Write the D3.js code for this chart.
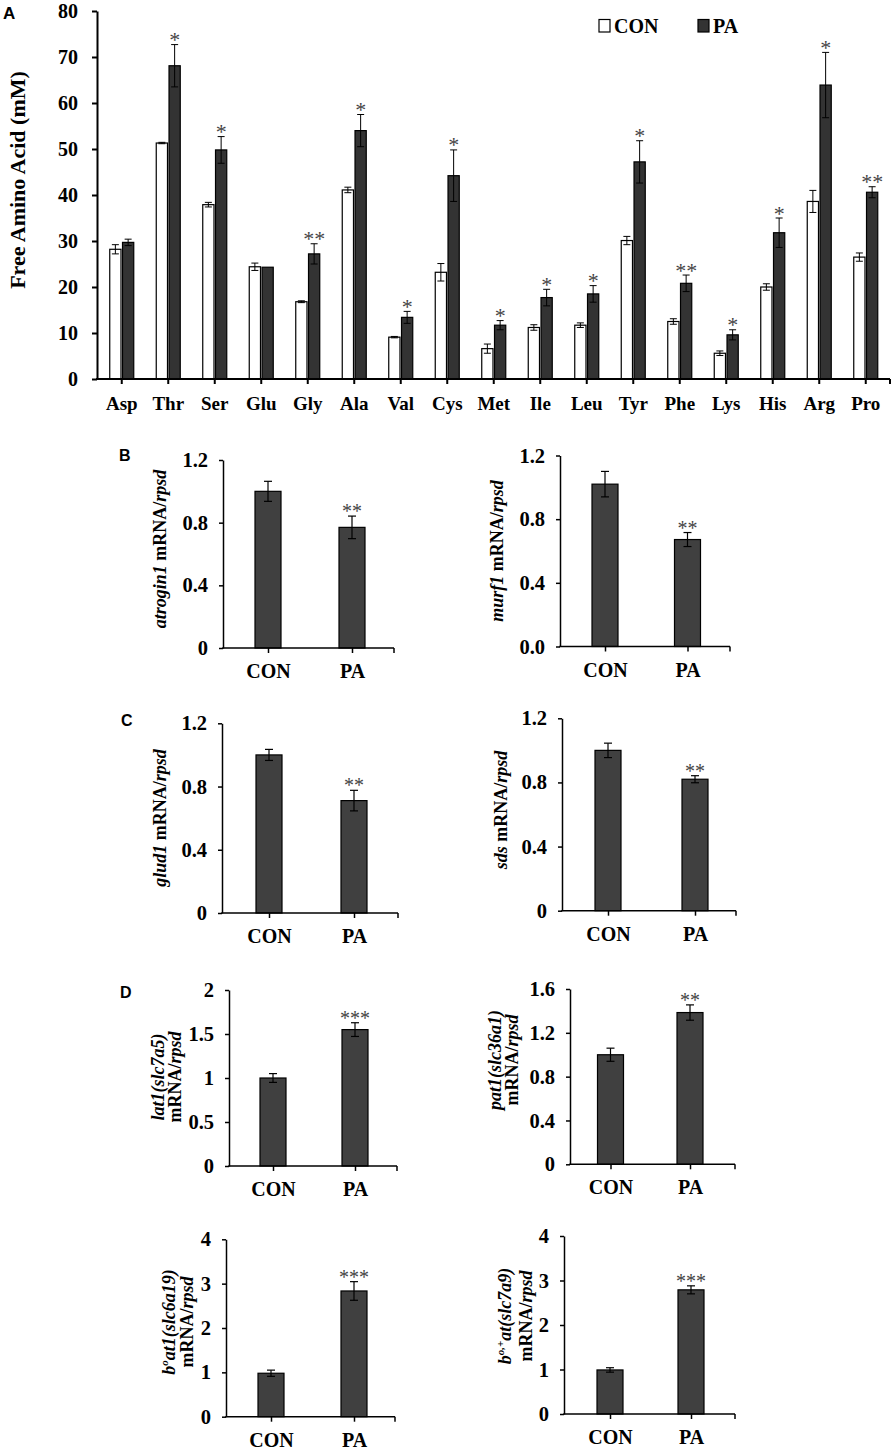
<!DOCTYPE html>
<html><head><meta charset="utf-8">
<script src="https://cdn.jsdelivr.net/npm/d3@7"></script>
<style>body{margin:0;background:#fff} svg{display:block}</style>
</head><body>
<svg id="fig" width="896" height="1450"></svg>
<script>
// ---------- DATA ----------
const aminoAcids = ["Asp","Thr","Ser","Glu","Gly","Ala","Val","Cys","Met","Ile","Leu","Tyr","Phe","Lys","His","Arg","Pro"];
const conMean = [28.2,51.3,37.9,24.4,16.8,41.1,9.1,23.2,6.6,11.2,11.7,30.1,12.5,5.6,20.0,38.6,26.5];
const conErr  = [1.0,0.15,0.5,0.8,0.2,0.6,0.15,1.9,1.0,0.6,0.5,0.9,0.6,0.5,0.7,2.4,0.9];
const paMean  = [29.7,68.1,49.8,24.3,27.2,54.0,13.4,44.2,11.7,17.7,18.5,47.2,20.8,9.6,31.8,63.9,40.6];
const paErr   = [0.7,4.6,2.9,0.0,2.2,3.5,1.3,5.6,1.0,1.8,1.8,4.6,1.8,1.1,3.2,7.1,1.2];
const paSig   = ["","*","*","","**","*","*","*","*","*","*","*","**","*","*","*","**"];
const ticksA  = [0,10,20,30,40,50,60,70,80];
const seriesA = ["CON","PA"];

const groups = ["CON","PA"];
const geneNames = ["atrogin1","murf1","glud1","sds","lat1","pat1","b0at1","b0plusat"];
const geneMeans = [[1.0,0.77],[1.02,0.672],[1.0,0.711],[1.0,0.82],[1.0,1.55],[1.0,1.385],[0.98,2.835],[0.99,2.79]];
const geneErrs  = [[0.064,0.072],[0.08,0.044],[0.035,0.065],[0.045,0.022],[0.05,0.078],[0.06,0.07],[0.07,0.21],[0.05,0.09]];
const geneSig   = ["**","**","**","**","***","**","***","***"];
const geneMax   = [1.2,1.2,1.2,1.2,2,1.6,4,4];
const geneTickValues = [[0,0.4,0.8,1.2],[0,0.4,0.8,1.2],[0,0.4,0.8,1.2],[0,0.4,0.8,1.2],[0,0.5,1,1.5,2],[0,0.4,0.8,1.2,1.6],[0,1,2,3,4],[0,1,2,3,4]];
const geneTickLabels = [["0","0.4","0.8","1.2"],["0.0","0.4","0.8","1.2"],["0","0.4","0.8","1.2"],["0","0.4","0.8","1.2"],["0","0.5","1","1.5","2"],["0","0.4","0.8","1.2","1.6"],["0","1","2","3","4"],["0","1","2","3","4"]];
const geneTitles = [
  [[["atrogin1",1],[" mRNA/",0],["rpsd",1]]],
  [[["murf1",1],[" mRNA/",0],["rpsd",1]]],
  [[["glud1",1],[" mRNA/",0],["rpsd",1]]],
  [[["sds",1],[" mRNA/",0],["rpsd",1]]],
  [[["lat1(slc7a5)",1]],[["mRNA/",0],["rpsd",1]]],
  [[["pat1(slc36a1)",1]],[["mRNA/",0],["rpsd",1]]],
  [[["b",1],["o",2],["at1(slc6a19)",1]],[["mRNA/",0],["rpsd",1]]],
  [[["b",1],["o,+",2],["at(slc7a9)",1]],[["mRNA/",0],["rpsd",1]]]
];
const panelLetters = ["A","B","C","D"];

// ---------- LAYOUT ----------
const SERIF = "'Liberation Serif','Times New Roman',serif";
const SANS = "'Liberation Sans',Arial,sans-serif";
const layA = {x0:97, x1:890, b0:98.5, b1:889, yTop:11, y0:379};
const lay = [
  {x0:223, x1:394, c:[268,352],   yTop:460,   y0:648,   tx:[160],     ty:549},
  {x0:560, x1:730, c:[605,687.5], yTop:455.5, y0:646.5, tx:[497],     ty:551},
  {x0:222, x1:398, c:[269,354],   yTop:723.3, y0:913,   tx:[160],     ty:818},
  {x0:562, x1:736, c:[608,695],   yTop:718.3, y0:910.7, tx:[501],     ty:810},
  {x0:229, x1:397, c:[273,355],   yTop:990,   y0:1166,  tx:[158,175], ty:1077},
  {x0:570, x1:735, c:[610.5,690], yTop:989,   y0:1164.3,tx:[495,512], ty:1060},
  {x0:226, x1:395, c:[271,354],   yTop:1239.3,y0:1416.7,tx:[169,187], ty:1322},
  {x0:564, x1:735, c:[610,691],   yTop:1236,  y0:1414,  tx:[505,526], ty:1316}
];
const letterPos = [[3,19,17],[119,461,16],[121,726,16],[120,998,16]];

const svg = d3.select("#fig");

// ---------- PANEL A ----------
const gA = svg.append("g");
const xA = d3.scaleBand().domain(aminoAcids).range([layA.b0, layA.b1]);
const xSub = d3.scaleBand().domain(seriesA).range([-12, 12]).paddingInner(0.12);
const yA = d3.scaleLinear().domain([0,80]).range([layA.y0, layA.yTop]);

const rowsA = aminoAcids.map((a,i)=>({a, i, vals:[
  {s:"CON", m:conMean[i], e:conErr[i], sig:""},
  {s:"PA", m:paMean[i], e:paErr[i], sig:paSig[i]}]}));

const cat = gA.selectAll("g.cat").data(rowsA).join("g")
  .attr("transform", d=>`translate(${xA(d.a)+xA.bandwidth()/2},0)`);
cat.selectAll("rect").data(d=>d.vals).join("rect")
  .attr("x", d=>xSub(d.s)).attr("width", xSub.bandwidth())
  .attr("y", d=>yA(d.m)).attr("height", d=>yA(0)-yA(d.m))
  .attr("fill", d=>d.s==="CON"?"#fff":"#333").attr("stroke","#000").attr("stroke-width",1.2);
const errA = cat.selectAll("g.err").data(d=>d.vals.filter(v=>v.e>0)).join("g")
  .attr("stroke","#000").attr("stroke-width",1);
errA.append("line").attr("x1",d=>xSub(d.s)+xSub.bandwidth()/2).attr("x2",d=>xSub(d.s)+xSub.bandwidth()/2)
  .attr("y1",d=>yA(d.m-d.e)).attr("y2",d=>yA(d.m+d.e));
errA.append("line").attr("x1",d=>xSub(d.s)+xSub.bandwidth()/2-3.5).attr("x2",d=>xSub(d.s)+xSub.bandwidth()/2+3.5)
  .attr("y1",d=>yA(d.m+d.e)).attr("y2",d=>yA(d.m+d.e));
errA.append("line").attr("x1",d=>xSub(d.s)+xSub.bandwidth()/2-3.5).attr("x2",d=>xSub(d.s)+xSub.bandwidth()/2+3.5)
  .attr("y1",d=>yA(d.m-d.e)).attr("y2",d=>yA(d.m-d.e));
cat.selectAll("text.sig").data(d=>d.vals.filter(v=>v.sig)).join("text").attr("class","sig")
  .attr("x",d=>xSub(d.s)+xSub.bandwidth()/2).attr("y",d=>yA(d.m+d.e)+2.5)
  .attr("text-anchor","middle").attr("font-family",SERIF).attr("font-size",22).attr("fill","#444")
  .text(d=>d.sig);

// axes A
const axLA = gA.append("g").attr("transform",`translate(${layA.x0},0)`)
  .call(d3.axisLeft(yA).tickValues(ticksA).tickSize(5).tickSizeOuter(0).tickPadding(14));
axLA.select(".domain").attr("stroke-width",2);
axLA.selectAll(".tick line").attr("stroke-width",2);
axLA.selectAll("text").attr("font-family",SERIF).attr("font-weight","bold").attr("font-size",20).attr("fill","#000");
const axBA = gA.append("g").attr("transform",`translate(0,${layA.y0})`)
  .call(d3.axisBottom(xA).tickSize(5).tickSizeOuter(0));
axBA.select(".domain").remove();
axBA.append("line").attr("x1",layA.x0-1).attr("x2",layA.x1).attr("stroke","#000").attr("stroke-width",2);
axBA.append("line").attr("x1",layA.x1).attr("x2",layA.x1).attr("y2",5).attr("stroke","#000").attr("stroke-width",2);
axBA.selectAll(".tick line").attr("stroke-width",2);
axBA.selectAll("text").attr("y",31).attr("dy",0).attr("font-family",SERIF).attr("font-weight","bold").attr("font-size",19).attr("fill","#000");

gA.append("text").attr("transform","translate(17,180) rotate(-90)").attr("dy","0.35em")
  .attr("text-anchor","middle").attr("font-family",SERIF).attr("font-weight","bold").attr("font-size",22)
  .text("Free Amino Acid (mM)");

// legend
const legX = [599, 698];
seriesA.forEach((s,i)=>{
  gA.append("rect").attr("x",legX[i]).attr("y",19.5).attr("width",11).attr("height",12.5)
    .attr("fill", s==="CON"?"#fff":"#333").attr("stroke","#000").attr("stroke-width",1.2);
  gA.append("text").attr("x",legX[i]+15).attr("y",33).attr("font-family",SERIF).attr("font-weight","bold")
    .attr("font-size",20).text(s);
});

// ---------- SMALL PANELS ----------
geneNames.forEach((gn,k)=>{
  const L = lay[k];
  const g = svg.append("g").attr("class","gene-"+gn);
  const x = d3.scalePoint().domain(groups).range(L.c);
  const y = d3.scaleLinear().domain([0, geneMax[k]]).range([L.y0, L.yTop]);
  const rows = groups.map((s,i)=>({s, m:geneMeans[k][i], e:geneErrs[k][i], sig: i===1?geneSig[k]:""}));
  const bw = 26;
  g.selectAll("rect").data(rows).join("rect")
    .attr("x",d=>x(d.s)-bw/2).attr("width",bw).attr("y",d=>y(d.m)).attr("height",d=>y(0)-y(d.m))
    .attr("fill","#404040").attr("stroke","#000").attr("stroke-width",1.2);
  const eg = g.selectAll("g.err").data(rows).join("g").attr("stroke","#000").attr("stroke-width",1.2);
  eg.append("line").attr("x1",d=>x(d.s)).attr("x2",d=>x(d.s)).attr("y1",d=>y(d.m-d.e)).attr("y2",d=>y(d.m+d.e));
  eg.append("line").attr("x1",d=>x(d.s)-4).attr("x2",d=>x(d.s)+4).attr("y1",d=>y(d.m+d.e)).attr("y2",d=>y(d.m+d.e));
  eg.append("line").attr("x1",d=>x(d.s)-4).attr("x2",d=>x(d.s)+4).attr("y1",d=>y(d.m-d.e)).attr("y2",d=>y(d.m-d.e));
  g.selectAll("text.sig").data(rows.filter(d=>d.sig)).join("text").attr("class","sig")
    .attr("x",d=>x(d.s)).attr("y",d=>y(d.m+d.e)+2).attr("text-anchor","middle")
    .attr("font-family",SERIF).attr("font-size",20).attr("fill","#444").text(d=>d.sig);

  const ay = g.append("g").attr("transform",`translate(${L.x0},0)`)
    .call(d3.axisLeft(y).tickValues(geneTickValues[k]).tickFormat((v,i)=>geneTickLabels[k][i])
      .tickSize(4).tickSizeOuter(0).tickPadding(11));
  ay.select(".domain").attr("stroke-width",1.5);
  ay.selectAll(".tick line").attr("stroke-width",1.5);
  ay.selectAll("text").attr("font-family",SERIF).attr("font-weight","bold").attr("font-size",20.5).attr("fill","#000");
  const ax = g.append("g").attr("transform",`translate(0,${L.y0})`)
    .call(d3.axisBottom(x).tickSize(5).tickSizeOuter(0));
  ax.select(".domain").remove();
  ax.append("line").attr("x1",L.x0-0.75).attr("x2",L.x1).attr("stroke","#000").attr("stroke-width",1.5);
  ax.append("line").attr("x1",L.x1).attr("x2",L.x1).attr("y2",5).attr("stroke","#000").attr("stroke-width",1.5);
  ax.selectAll(".tick line").attr("stroke-width",1.5);
  ax.selectAll("text").attr("y",30).attr("dy",0).attr("font-family",SERIF).attr("font-weight","bold").attr("font-size",20).attr("fill","#000");

  geneTitles[k].forEach((line,li)=>{
    const t = g.append("text").attr("transform",`translate(${L.tx[li]},${L.ty}) rotate(-90)`).attr("dy","0.35em")
      .attr("text-anchor","middle").attr("font-family",SERIF).attr("font-weight","bold").attr("font-size",18);
    let prevSup = false;
    line.forEach(([txt,st])=>{
      const sp = t.append("tspan").text(txt);
      if (st>=1) sp.attr("font-style","italic");
      if (st===2){ sp.attr("font-size",11).attr("dy",-7); prevSup = true; }
      else if (prevSup){ sp.attr("dy",7); prevSup=false; }
    });
  });
});

// panel letters
panelLetters.forEach((p,i)=>{
  svg.append("text").attr("x",letterPos[i][0]).attr("y",letterPos[i][1]).attr("font-family",SANS)
    .attr("font-weight","bold").attr("font-size",letterPos[i][2]).text(p);
});
</script>
</body></html>
